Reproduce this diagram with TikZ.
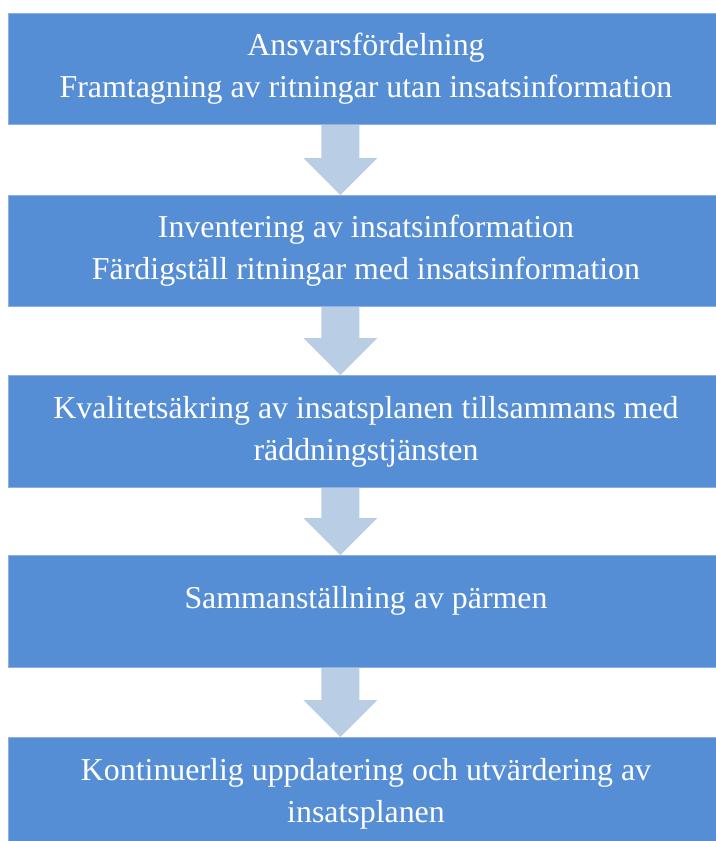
\documentclass[tikz,border=0pt]{standalone}
\usepackage{fontspec}
\setmainfont{Liberation Serif}
\usetikzlibrary{calc}
\definecolor{boxblue}{HTML}{558ED5}
\definecolor{boxedge}{HTML}{8DB0E0}
\definecolor{arrowblue}{HTML}{B9CDE5}
\newcommand\flowarrow[2]{%
  \fill[arrowblue] ($(#1.south)+(-45,0)$) -- ($(#1.south)+(-7,0)$)
    -- ($(#2.north)+(-7,-37)$) -- ($(#2.north)+(11,-37)$)
    -- ($(#2.north)+(-26,0)$) -- ($(#2.north)+(-63,-37)$)
    -- ($(#2.north)+(-45,-37)$) -- cycle;}
\begin{document}
\begin{tikzpicture}[x=1bp,y=-1bp,
  box/.style={rectangle, fill=boxblue, draw=boxedge, line width=0.8bp,
    minimum width=716bp, inner sep=0pt, anchor=north west},
  label/.style={text=white, align=center, inner sep=0pt,
    font=\fontsize{32}{42}\selectfont}]
\useasboundingbox (0,0) rectangle (716,841);
\clip (0,0) rectangle (716,841);
\fill[white] (0,0) rectangle (716,841);
\node[box, minimum height=111bp] (b1) at (8,13) {};
\node[box, minimum height=111bp] (b2) at (8,195) {};
\node[box, minimum height=112bp] (b3) at (8,375) {};
\node[box, minimum height=112bp] (b4) at (8,555) {};
\node[box, minimum height=112bp] (b5) at (8,737) {};
\node[label] (t1) at (366,69) {Ansvarsfördelning\\Framtagning av ritningar utan insatsinformation};
\node[label] (t2) at (366,251) {Inventering av insatsinformation\\Färdigställ ritningar med insatsinformation};
\node[label] (t3) at (366,432) {Kvalitetsäkring av insatsplanen tillsammans med\\räddningstjänsten};
\node[label] (t4) at (366,601) {Sammanställning av pärmen};
\node[label] (t5) at (366,794) {Kontinuerlig uppdatering och utvärdering av\\insatsplanen};
\flowarrow{b1}{b2}
\flowarrow{b2}{b3}
\flowarrow{b3}{b4}
\flowarrow{b4}{b5}
\end{tikzpicture}
\end{document}
